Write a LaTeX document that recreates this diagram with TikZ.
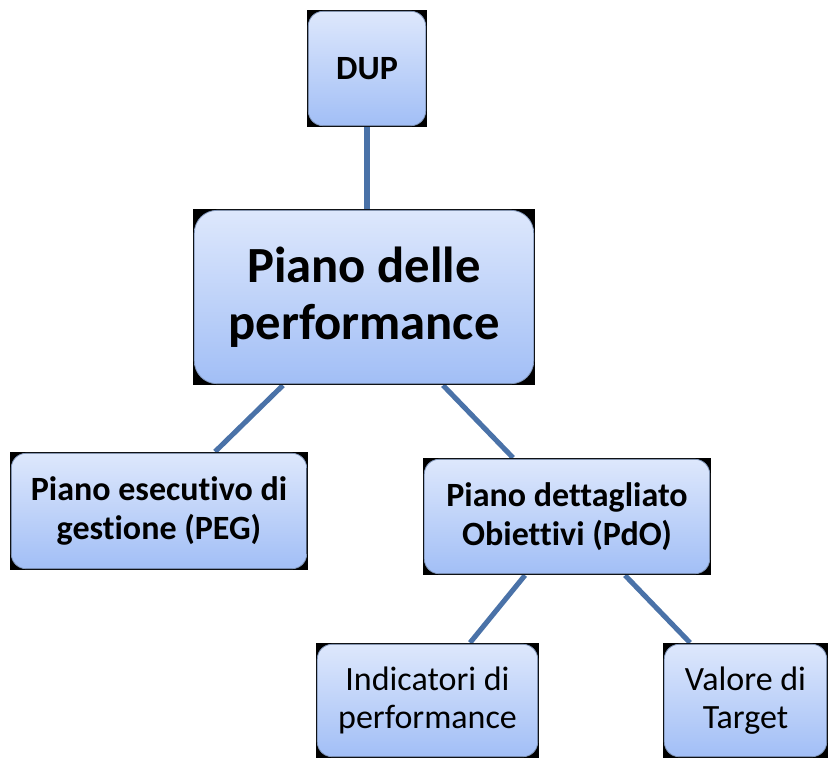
\documentclass[tikz,border=0pt]{standalone}
\usepackage{fontspec}
\setmainfont{Carlito}[Ligatures=NoCommon]
\usetikzlibrary{backgrounds}
\definecolor{topc}{HTML}{DEE8FC}
\definecolor{botc}{HTML}{A1BEF6}
\definecolor{edgec}{HTML}{7E93B6}
\definecolor{linkc}{HTML}{4A72A8}
\tikzset{
  box/.style={rectangle, fill=black, inner sep=0pt, align=center,
    font=\fontsize{25.5}{29}\selectfont,
    path picture={\shadedraw[top color=topc, bottom color=botc, draw=edgec, line width=0.6pt, rounded corners=#1]
      ([shift={(1pt,-1pt)}]path picture bounding box.north west) rectangle
      ([shift={(-1pt,1pt)}]path picture bounding box.south east);}},
  box/.default=11pt,
  bigbox/.style={box=17pt, font=\fontsize{38}{43}\bfseries\selectfont},
  link/.style={draw=linkc, line width=3.8pt}
}
\begin{document}
\begin{tikzpicture}[x=0.75pt,y=-0.75pt]
\useasboundingbox (0,0) rectangle (828,758);
\node[box, minimum width=90pt, minimum height=87.75pt, font=\fontsize{25.5}{29}\bfseries\selectfont] (dup) at (367,68.5) {DUP};
\node[bigbox, minimum width=256.5pt, minimum height=132pt] (main) at (364,297) {Piano delle\\performance};
\node[box, minimum width=223.5pt, minimum height=88.5pt, font=\fontsize{25.5}{29}\bfseries\selectfont] (peg) at (159,511) {Piano esecutivo di\\gestione (PEG)};
\node[box, minimum width=216pt, minimum height=87.75pt, font=\fontsize{25.5}{29}\bfseries\selectfont] (pdo) at (567,516.5) {Piano dettagliato\\Obiettivi (PdO)};
\node[box, minimum width=167.25pt, minimum height=86.25pt] (ind) at (427.5,700.5) {Indicatori di\\performance};
\node[box, minimum width=123.75pt, minimum height=86.25pt] (val) at (745.5,700.5) {Valore di\\Target};
\begin{scope}[on background layer]
\draw[link] (dup.south) -- (dup.south |- main.north);
\draw[link] ([xshift=-60.75pt]main.south) -- ([xshift=42pt]peg.north);
\draw[link] ([xshift=59.25pt]main.south) -- ([xshift=-40.5pt]pdo.north);
\draw[link] ([xshift=-31.5pt]pdo.south) -- ([xshift=31.9pt]ind.north);
\draw[link] ([xshift=43.5pt]pdo.south) -- ([xshift=-41.6pt]val.north);
\end{scope}
\end{tikzpicture}
\end{document}
